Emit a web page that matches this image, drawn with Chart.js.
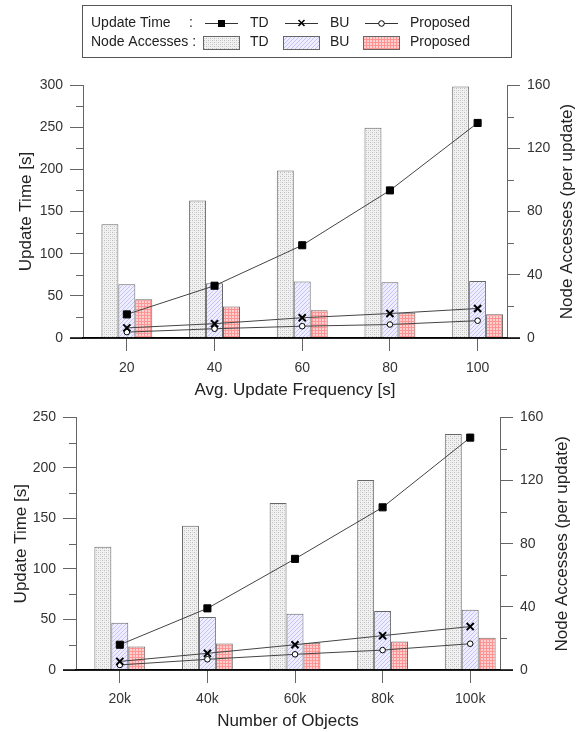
<!DOCTYPE html>
<html lang="en">
<head>
<meta charset="UTF-8">
<title>Update Time and Node Accesses</title>
<script src="https://cdn.jsdelivr.net/npm/chart.js@4.4.1/dist/chart.umd.min.js"></script>
<style>
  body { margin: 0; background: #fff; }
  #wrap { position: relative; width: 586px; height: 732px; }
  canvas { position: absolute; left: 0; }
</style>
</head>
<body>
<div id="wrap">
  <canvas id="freqChart" width="586" height="402" style="top:0"></canvas>
  <canvas id="objChart" width="586" height="330" style="top:402px"></canvas>
</div>
<script>
// top chart: avg. update frequency [s]
const freqValues = [20, 40, 60, 80, 100];
const freqTimeTD = [28, 62, 110, 175, 255];
const freqTimeBU = [12, 17, 24, 29, 35];
const freqTimeProp = [7, 11, 14, 16, 20.5];
const freqNodeTD = [72, 87, 106, 133, 159];
const freqNodeBU = [34, 34.6, 35.8, 35.2, 36];
const freqNodeProp = [24.5, 20, 17.5, 16, 15];

// bottom chart: number of objects
const objValues = [20, 40, 60, 80, 100];
const objTickLabels = ['20k', '40k', '60k', '80k', '100k'];
const objTimeTD = [25, 61, 110, 161, 230];
const objTimeBU = [8.5, 16.5, 25, 34, 43];
const objTimeProp = [5, 10.6, 15.5, 19.7, 26];
const objNodeTD = [78, 91.3, 105.8, 120.3, 149.5];
const objNodeBU = [30, 33.6, 35.7, 37.4, 38.2];
const objNodeProp = [14.9, 16.8, 17.2, 18.1, 20.4];

const FONT = '"Liberation Sans", Arial, sans-serif';

function makePattern(kind) {
    const c = document.createElement('canvas');
    const p = c.getContext('2d');
    if (kind === 'dots') {
        c.width = c.height = 4;
        p.fillStyle = '#f1f1f1'; p.fillRect(0, 0, 4, 4);
        p.fillStyle = '#bcbcbc'; p.fillRect(0, 0, 1, 1); p.fillRect(2, 2, 1, 1);
        p.fillStyle = '#dadada'; p.fillRect(2, 0, 1, 1); p.fillRect(0, 2, 1, 1);
    } else if (kind === 'hatch') {
        c.width = c.height = 4;
        p.fillStyle = '#eeeeff'; p.fillRect(0, 0, 4, 4);
        p.fillStyle = '#c2c2f4';
        for (let i = 0; i < 4; i++) p.fillRect(i, 3 - i, 1, 1);
    } else {
        c.width = c.height = 3;
        p.fillStyle = '#ffd0d0'; p.fillRect(0, 0, 3, 3);
        p.fillStyle = '#ff9494'; p.fillRect(0, 0, 3, 1); p.fillRect(0, 0, 1, 3);
    }
    return p.createPattern(c, 'repeat');
}
const patTD = makePattern('dots');
const patBU = makePattern('hatch');
const patProp = makePattern('grid');

function pts(xs, ys) {
    return xs.map((x, i) => ({x: x, y: ys[i]}));
}

// short ticks between the labelled ones, longer base line, right axis title read upwards
const axisExtras = {
    id: 'axisExtras',
    afterDraw(chart, args, opts) {
        const ctx = chart.ctx;
        const a = chart.chartArea;
        ctx.save();
        ctx.strokeStyle = '#666';
        ctx.lineWidth = 1;
        [['y', -1], ['y1', 1]].forEach(([id, dir]) => {
            const s = chart.scales[id];
            const step = s.options.ticks.stepSize;
            const x0 = dir < 0 ? s.right : s.left;
            for (let v = step / 2; v < s.max; v += step) {
                const y = Math.round(s.getPixelForValue(v)) + 0.5;
                ctx.beginPath();
                ctx.moveTo(x0, y);
                ctx.lineTo(x0 + dir * 7, y);
                ctx.stroke();
            }
        });
        ctx.strokeStyle = '#000';
        ctx.lineWidth = 1.5;
        ctx.beginPath();
        ctx.moveTo(a.left - 13, a.bottom);
        ctx.lineTo(a.right + 13, a.bottom);
        ctx.stroke();
        ctx.translate(opts.rightTitleX, (a.top + a.bottom) / 2);
        ctx.rotate(-Math.PI / 2);
        ctx.font = '17px ' + FONT;
        ctx.fillStyle = '#222';
        ctx.textAlign = 'center';
        ctx.textBaseline = 'middle';
        ctx.fillText('Node Accesses (per update)', 0, 0);
        ctx.restore();
    }
};

// legend box above the first chart
const legendBox = {
    id: 'legendBox',
    afterDraw(chart) {
        const ctx = chart.ctx;
        ctx.save();
        ctx.strokeStyle = '#555';
        ctx.lineWidth = 1;
        ctx.strokeRect(82.5, 5.5, 429, 52);
        ctx.font = '14px ' + FONT;
        ctx.fillStyle = '#222';
        ctx.textBaseline = 'middle';
        const r1 = 23, r2 = 42.5;
        ctx.fillText('Update Time', 91, r1);
        ctx.fillText(':', 189, r1);
        ctx.fillText('Node Accesses :', 91, r2);
        const cols = [205, 285, 365];
        const names = ['TD', 'BU', 'Proposed'];
        const pats = [patTD, patBU, patProp];
        cols.forEach((x, i) => {
            ctx.fillStyle = '#222';
            ctx.fillText(names[i], x + 45, r1);
            ctx.fillText(names[i], x + 45, r2);
            // line sample
            ctx.strokeStyle = '#333';
            ctx.lineWidth = 1;
            ctx.beginPath();
            ctx.moveTo(x, r1 + 0.5);
            ctx.lineTo(x + 33, r1 + 0.5);
            ctx.stroke();
            const cx = x + 16.5;
            ctx.strokeStyle = '#000';
            ctx.fillStyle = '#000';
            if (i === 0) {
                ctx.fillRect(cx - 3.5, r1 - 3, 7, 7);
            } else if (i === 1) {
                ctx.lineWidth = 1.6;
                ctx.beginPath();
                ctx.moveTo(cx - 3, r1 - 3); ctx.lineTo(cx + 3, r1 + 3);
                ctx.moveTo(cx + 3, r1 - 3); ctx.lineTo(cx - 3, r1 + 3);
                ctx.stroke();
            } else {
                ctx.fillStyle = '#fff';
                ctx.lineWidth = 1;
                ctx.beginPath();
                ctx.arc(cx, r1 + 0.5, 2.8, 0, Math.PI * 2);
                ctx.fill();
                ctx.stroke();
            }
            // box sample
            ctx.fillStyle = pats[i];
            ctx.fillRect(x - 2, 36, 37, 13);
            ctx.strokeStyle = '#666';
            ctx.lineWidth = 1;
            ctx.strokeRect(x - 1.5, 36.5, 36, 13);
        });
        ctx.restore();
    }
};

function buildChart(id, o) {
    const lineBase = {type: 'line', yAxisID: 'y', borderColor: '#444', borderWidth: 1,
        tension: 0, pointBorderColor: '#000', order: 0};
    const barBase = {type: 'bar', yAxisID: 'y1', borderColor: '#666', borderWidth: 1,
        categoryPercentage: 0.58, barPercentage: 1, order: 1};
    const tickFont = {family: FONT, size: 14};
    const titleFont = {family: FONT, size: 17};
    return new Chart(document.getElementById(id), {
        type: 'bar',
        data: {
            datasets: [
                Object.assign({}, barBase, {label: 'TD', data: pts(o.xs, o.nodes[0]), backgroundColor: patTD}),
                Object.assign({}, barBase, {label: 'BU', data: pts(o.xs, o.nodes[1]), backgroundColor: patBU}),
                Object.assign({}, barBase, {label: 'Proposed', data: pts(o.xs, o.nodes[2]), backgroundColor: patProp}),
                Object.assign({}, lineBase, {label: 'TD', data: pts(o.xs, o.times[0]),
                    pointStyle: 'rect', pointRadius: 5, pointBackgroundColor: '#000', pointBorderWidth: 1}),
                Object.assign({}, lineBase, {label: 'BU', data: pts(o.xs, o.times[1]),
                    pointStyle: 'crossRot', pointRadius: 5, pointBorderWidth: 2}),
                Object.assign({}, lineBase, {label: 'Proposed', data: pts(o.xs, o.times[2]),
                    pointStyle: 'circle', pointRadius: 2.8, pointBackgroundColor: '#fff', pointBorderWidth: 1})
            ]
        },
        options: {
            responsive: false,
            animation: false,
            devicePixelRatio: 1,
            layout: {padding: {top: o.padTop, left: 0, right: 0, bottom: 0}},
            plugins: {
                legend: {display: false},
                tooltip: {enabled: false},
                axisExtras: {rightTitleX: o.rightTitleX}
            },
            scales: {
                x: {
                    type: 'linear', position: 'bottom', min: 10, max: o.xMax, offset: false,
                    afterBuildTicks: s => { s.ticks = o.xs.map(v => ({value: v})); },
                    afterFit: s => { s.height = o.xH; },
                    ticks: {font: tickFont, color: '#333', padding: o.xTickPad,
                        callback: (v) => o.tickFmt(v)},
                    grid: {offset: false, drawOnChartArea: false, drawTicks: true, tickLength: 13, tickColor: '#666'},
                    border: {color: '#000', width: 1.5},
                    title: {display: true, text: o.xTitle, font: titleFont, color: '#222',
                        padding: {top: 0, bottom: o.xTitlePad}}
                },
                y: {
                    position: 'left', min: 0, max: o.yMax,
                    afterFit: s => { s.width = o.leftW; },
                    ticks: {stepSize: 50, font: tickFont, color: '#333', padding: 7},
                    grid: {drawOnChartArea: false, drawTicks: true, tickLength: 13, tickColor: '#666'},
                    border: {color: '#666', width: 1},
                    title: {display: true, text: 'Update Time [s]', font: titleFont, color: '#222',
                        padding: {top: o.leftTitlePad, bottom: 0}}
                },
                y1: {
                    position: 'right', min: 0, max: 160,
                    afterFit: s => { s.width = o.rightW; },
                    ticks: {stepSize: 40, font: tickFont, color: '#333', padding: 7},
                    grid: {drawOnChartArea: false, drawTicks: true, tickLength: 13, tickColor: '#666'},
                    border: {color: '#666', width: 1},
                    title: {display: false}
                }
            }
        },
        plugins: o.plugins
    });
}

buildChart('freqChart', {
    xs: freqValues, xMax: 106.7, yMax: 300,
    times: [freqTimeTD, freqTimeBU, freqTimeProp],
    nodes: [freqNodeTD, freqNodeBU, freqNodeProp],
    tickFmt: v => String(v),
    xTitle: 'Avg. Update Frequency [s]',
    padTop: 85, xH: 64, xTickPad: 9, xTitlePad: 1,
    leftW: 83, rightW: 79, leftTitlePad: 16, rightTitleX: 567,
    plugins: [axisExtras, legendBox]
});

buildChart('objChart', {
    xs: objValues, xMax: 106.8, yMax: 250,
    times: [objTimeTD, objTimeBU, objTimeProp],
    nodes: [objNodeTD, objNodeBU, objNodeProp],
    tickFmt: v => objTickLabels[objValues.indexOf(v)],
    xTitle: 'Number of Objects',
    padTop: 15, xH: 62, xTickPad: 8, xTitlePad: 0,
    leftW: 76, rightW: 86, leftTitlePad: 11, rightTitleX: 562,
    plugins: [axisExtras]
});
</script>
</body>
</html>
